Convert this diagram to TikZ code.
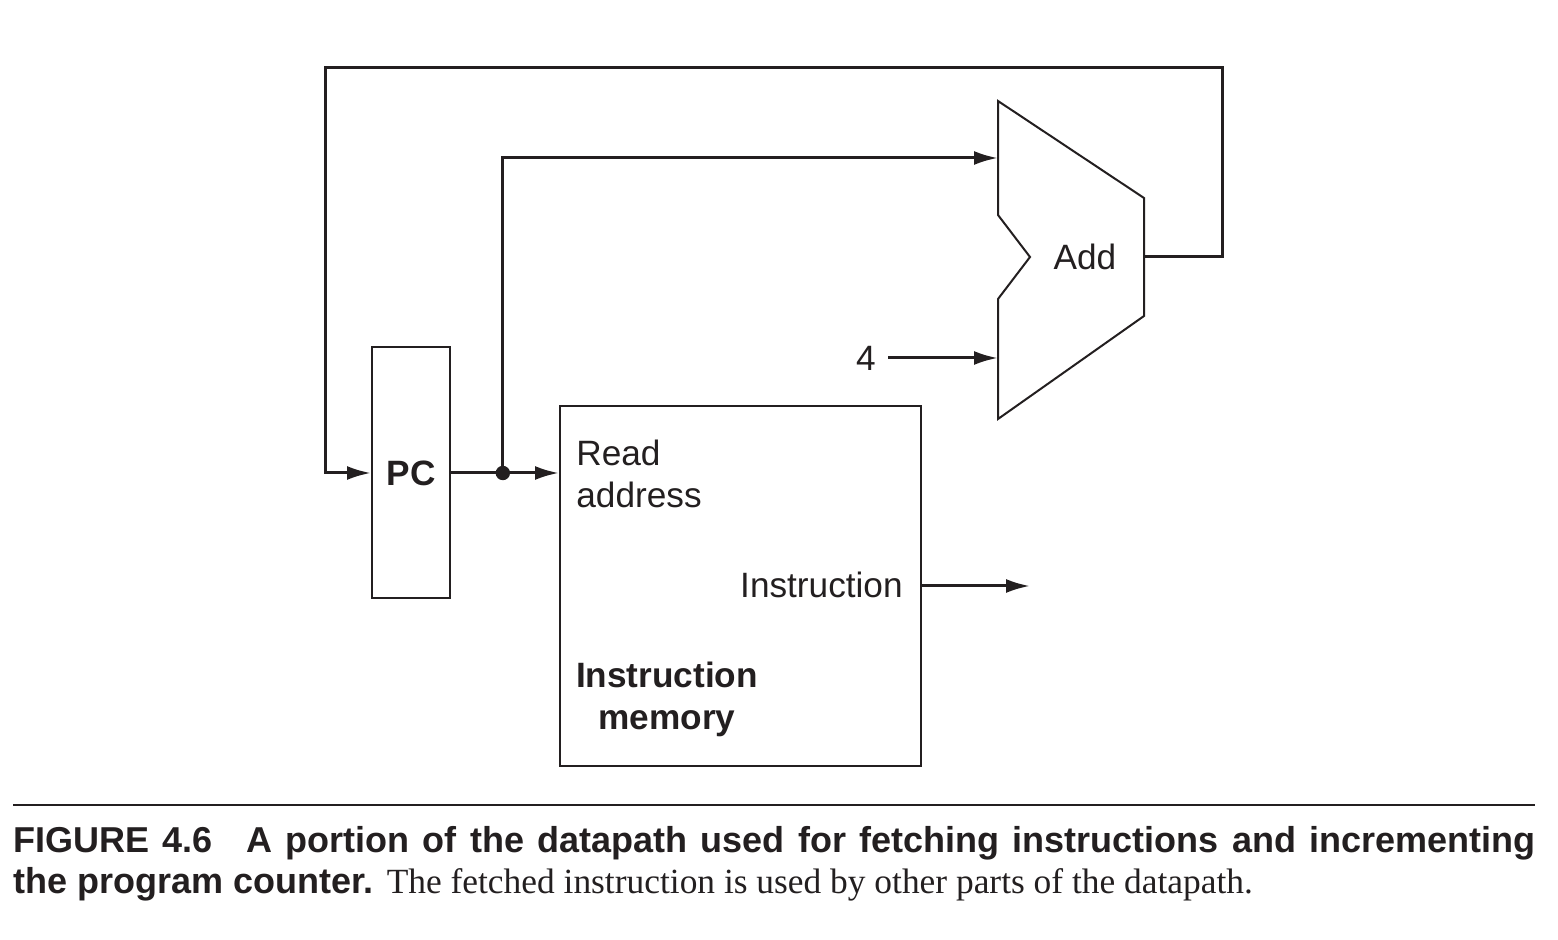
\documentclass[tikz,border=0pt]{standalone}
\usepackage{fontspec}
\setmainfont{Liberation Sans}
\newfontfamily\capserif{Liberation Serif}
\usepackage{xcolor}
\usetikzlibrary{arrows.meta,positioning,calc}
\definecolor{ink}{HTML}{231F20}

\begin{document}
\begin{tikzpicture}[x=0.5pt, y=-0.5pt, ink, every node/.style={font=\fontsize{17.6pt}{21pt}\selectfont, text=ink},
  unit/.style={draw, line width=1pt, inner sep=0pt},
  wire/.style={line width=1.5pt, -{Latex[length=12pt,width=7pt]}}]
\useasboundingbox (0,0) rectangle (1558,940);

\node (pc) [unit, minimum width=39pt, minimum height=125.5pt, font=\fontsize{17.6pt}{21pt}\selectfont\bfseries] at (411,473) {PC};
\node (mem) [unit, minimum width=180.5pt, minimum height=180pt] at (740.5,586) {};
\node (rdaddr) [anchor=base west, align=left, inner sep=0pt] at (576,508) {Read\\address};
\node (instr) [anchor=base east, inner sep=0pt] at (903,598) {Instruction};
\node (memname) [anchor=base, align=center, inner sep=0pt, font=\fontsize{17.6pt}{21pt}\selectfont\bfseries] at (667,729) {Instruction\\memory};

% adder
\draw[line width=1pt] (998,101) -- (1144,198) -- (1144,316) -- (998,419) -- (998,299) -- (1030,257) -- (998,215) -- cycle;
\node (add) at (1085,257) {Add};
\coordinate (inA) at (998,158);
\coordinate (inB) at (998,358);
\coordinate (addOut) at (1144,257);
\node (four) [inner sep=6pt] at (866,358) {4};

\coordinate (split) at ($(pc.east)!0.48!(pc.east -| mem.west)$);
\coordinate (loopR) at (1222,68);
\coordinate (loopL) at (325,473);
\coordinate (instrOut) at (1030,586);

\draw[wire] (pc.east) -- (pc.east -| mem.west);
\fill (split) circle (3.6pt);
\draw[wire] (split) |- (inA);
\draw[wire] (four) -- (inB);
\draw[wire] (addOut) -| (loopR) -| (loopL) -- (pc.west);
\draw[wire] (mem.east |- instrOut) -- (instrOut);

% caption
\draw[line width=1pt] (13,805) -- (1535,805);
\node (cap1) [anchor=base west, inner sep=0pt, font=\fontsize{18pt}{20.5pt}\selectfont\bfseries] at (13,852)
  {\makebox[761pt][s]{FIGURE 4.6\hspace{10pt} A portion of the datapath used for fetching instructions and incrementing}};
\node (cap2) [anchor=base west, inner sep=0pt] at (13,893)
  {\fontsize{18pt}{20.5pt}\selectfont\bfseries the program counter. \capserif\mdseries\fontsize{17.7pt}{20.5pt}\selectfont The fetched instruction is used by other parts of the datapath.};
\end{tikzpicture}
\end{document}
